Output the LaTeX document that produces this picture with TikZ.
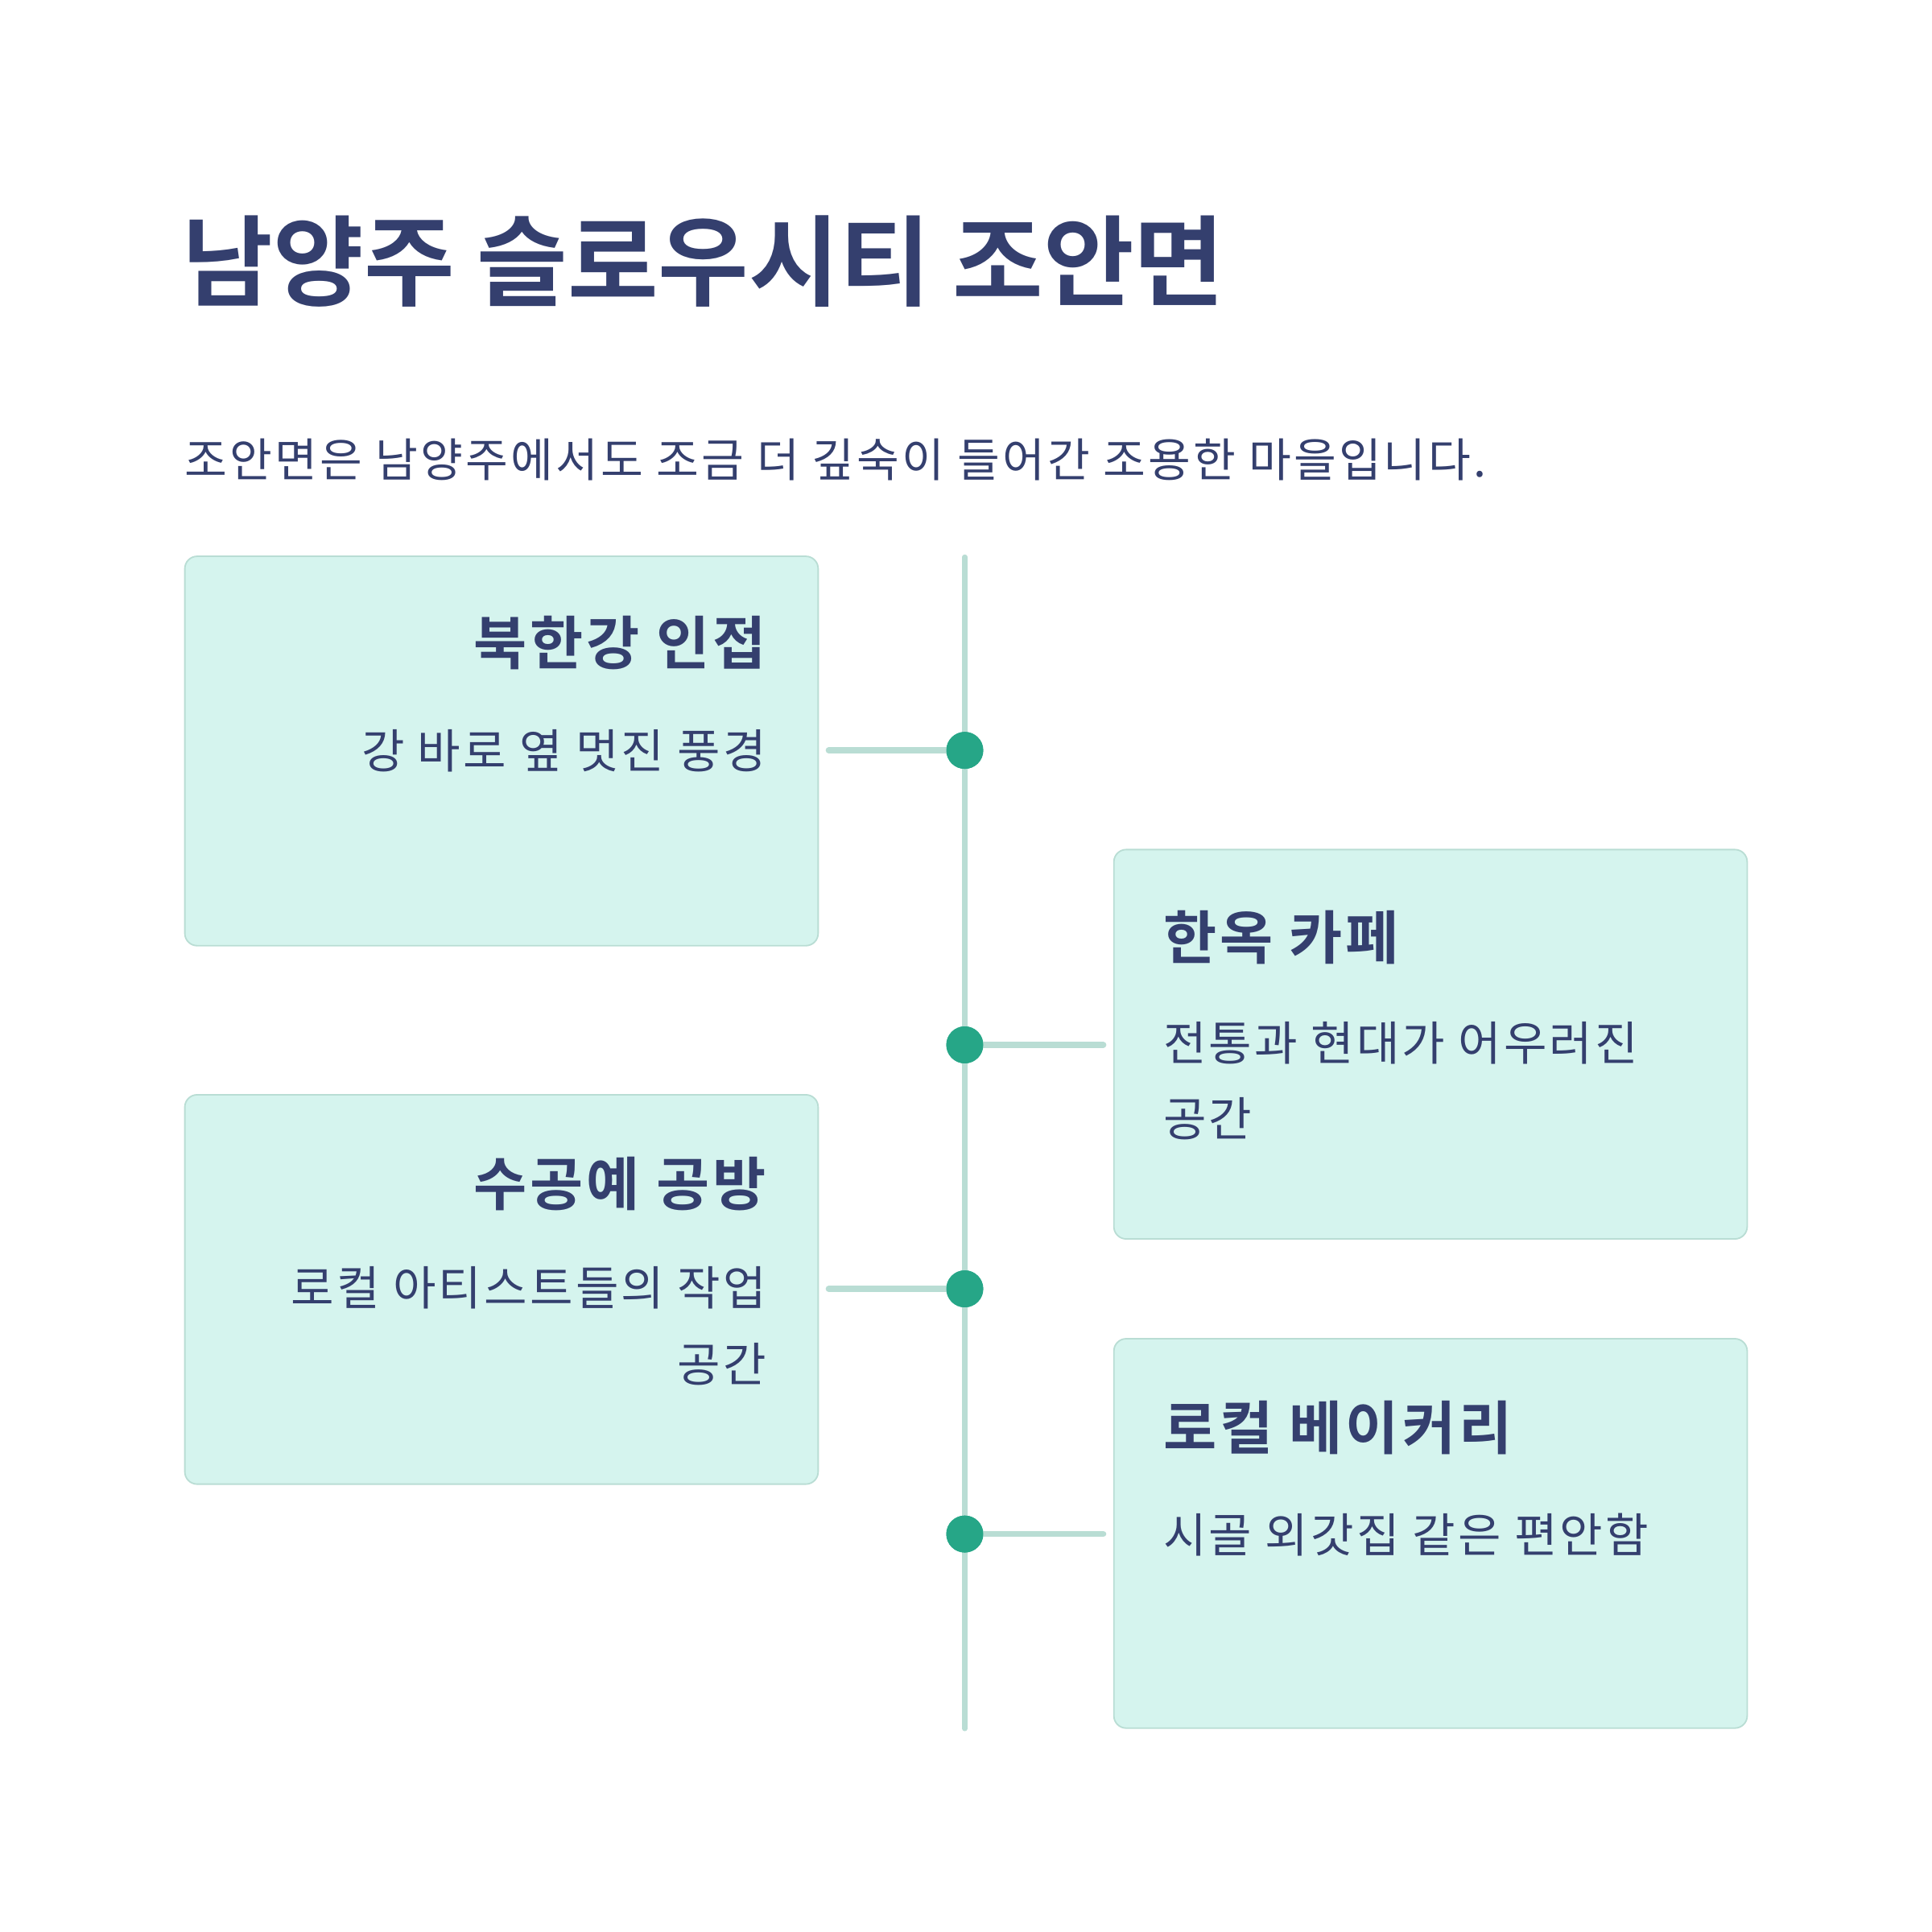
\documentclass[tikz,border=0pt]{standalone}
\usepackage{fontspec}
\setmainfont[Kerning=Off]{Noto Sans CJK KR}
\newfontfamily\krtext[Kerning=Off, LetterSpace=5.5]{Noto Sans CJK KR}
\newfontfamily\krbold[Kerning=Off]{Noto Sans CJK KR Bold}
\newfontfamily\krboldwide[Kerning=Off, LetterSpace=5.5]{Noto Sans CJK KR Bold}
\usetikzlibrary{positioning}
\definecolor{inkblue}{HTML}{343F6E}
\definecolor{mintfill}{HTML}{D5F4EE}
\definecolor{mintline}{HTML}{B9DDD4}
\definecolor{dotgreen}{HTML}{26A687}
\tikzset{% common styles of the timeline elements
  card/.style      = {shape=rectangle, rounded corners=10pt,
                      draw=mintline, line width=1.2pt, fill=mintfill,
                      minimum width=514pt, minimum height=316pt, inner sep=0pt},
  cardtitle/.style = {inner sep=0pt, text=inkblue, font=\krboldwide\fontsize{47}{56}\selectfont},
  cardtext/.style  = {inner sep=0pt, text=inkblue, font=\krtext\fontsize{38}{61.5}\selectfont},
  stem/.style      = {draw=mintline, line width=5pt, line cap=round},
  knot/.style      = {circle, fill=dotgreen, minimum size=30pt, inner sep=0pt},
}

\begin{document}
\begin{tikzpicture}[x=1pt, y=-1pt]
  \useasboundingbox (0,0) rectangle (1568,1568);
  % heading
  \node [anchor=west, inner sep=0pt, text=inkblue,
         font=\krbold\fontsize{80}{90}\selectfont] (title) at (148,212)
        {남양주 슬로우시티 조안면};
  \node [anchor=west, inner sep=0pt, text=inkblue,
         font=\krtext\fontsize{37.5}{44}\selectfont] (lead) at (150,373)
        {조안면은 남양주에서도 조금 더 깊숙이 들어간 조용한 마을입니다.};
  % the line in the middle
  \coordinate (top) at (783,452);
  \coordinate (bottom) at (783,1403);
  \draw [mintline, line width=4pt, line cap=round] (top) -- (bottom);
  % cards
  \node [card] (c1) at (407,609.5)  {};
  \node [card] (c2) at (1161,847.5) {};
  \node [card] (c3) at (407,1046.5) {};
  \node [card] (c4) at (1161,1244.5){};
  % dots on the line
  \node [knot] (k1) at (783,609)  {};
  \node [knot] (k2) at (783,848)  {};
  \node [knot] (k3) at (783,1046) {};
  \node [knot] (k4) at (783,1245) {};
  \draw [stem, shorten <=8pt] (c1.east |- k1) -- (k1);
  \draw [stem, shorten <=8pt] (c2.west |- k2) -- (k2);
  \draw [stem, shorten <=8pt] (c3.east |- k3) -- (k3);
  \draw [stem, shorten <=8pt] (c4.west |- k4) -- (k4);
  \fill [dotgreen] (k1) circle (15pt) (k2) circle (15pt)
                   (k3) circle (15pt) (k4) circle (15pt);
  % card texts
  \node [cardtitle, anchor=east] (t1) at (622,522)  {북한강 인접};
  \node [cardtext, anchor=north east, align=right] (d1) at (622,592)
        {강 바로 옆 멋진 풍경};
  \node [cardtitle, anchor=west] (t2) at (944,761)  {한옥 카페};
  \node [cardtext, anchor=north west, align=left] (d2) at (944,829)
        {전통과 현대가 어우러진\\공간};
  \node [cardtitle, anchor=east] (t3) at (622,961)  {수공예 공방};
  \node [cardtext, anchor=north east, align=right] (d3) at (622,1028)
        {로컬 아티스트들의 작업\\공간};
  \node [cardtitle, anchor=west] (t4) at (944,1159) {로컬 베이커리};
  \node [cardtext, anchor=north west, align=left] (d4) at (944,1228)
        {시골 외갓집 같은 편안함};
\end{tikzpicture}
\end{document}
